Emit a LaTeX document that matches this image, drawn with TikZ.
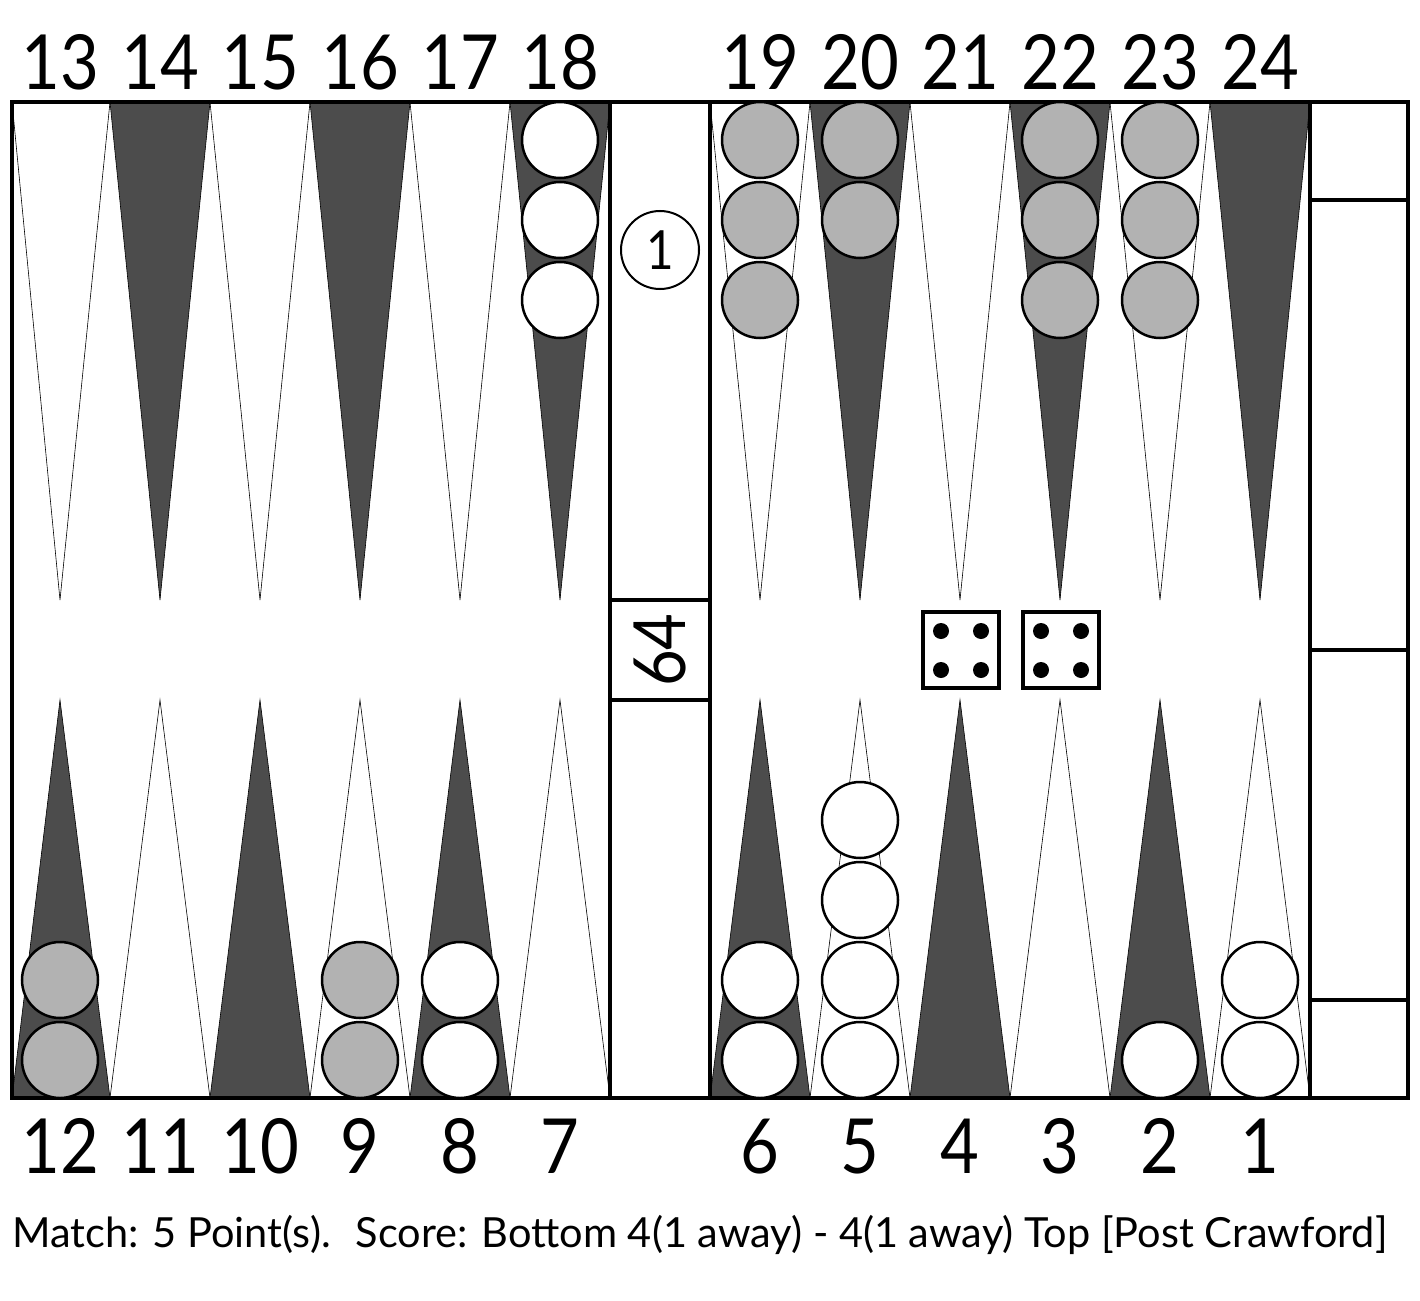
\documentclass[tikz,border=0pt]{standalone}
\usepackage{fontspec}
\setmainfont{Lato}
\newfontfamily\numfont[FakeStretch=0.88]{Lato}
\usetikzlibrary{positioning}

\begin{document}
\begin{tikzpicture}[x=1pt, y=-1pt, node distance=80pt,
  checker/.style={circle, draw, line width=2.5pt, minimum size=76pt, inner sep=0pt},
  whiteman/.style={checker, fill=white},
  grayman/.style={checker, fill=black!30},
  darkpoint/.style={fill=black!70, draw=black, line width=0.6pt},
  lightpoint/.style={fill=white, draw=black, line width=0.6pt},
  pointnum/.style={anchor=base, font=\numfont\fontsize{76}{80}\selectfont},
  die/.style={draw, line width=4pt, minimum size=76pt, inner sep=0pt},
  pip/.style={circle, fill=black, minimum size=16pt, inner sep=0pt}]
  \useasboundingbox (0,0) rectangle (1420,1300);

  % top points 13-24
  \draw[lightpoint] (12,102) -- (60,600) -- (110,102) -- cycle;
  \draw[darkpoint] (110,102) -- (160,600) -- (210,102) -- cycle;
  \draw[lightpoint] (210,102) -- (260,600) -- (310,102) -- cycle;
  \draw[darkpoint] (310,102) -- (360,600) -- (410,102) -- cycle;
  \draw[lightpoint] (410,102) -- (460,600) -- (510,102) -- cycle;
  \draw[darkpoint] (510,102) -- (560,600) -- (610,102) -- cycle;
  \draw[lightpoint] (710,102) -- (760,600) -- (810,102) -- cycle;
  \draw[darkpoint] (810,102) -- (860,600) -- (910,102) -- cycle;
  \draw[lightpoint] (910,102) -- (960,600) -- (1010,102) -- cycle;
  \draw[darkpoint] (1010,102) -- (1060,600) -- (1110,102) -- cycle;
  \draw[lightpoint] (1110,102) -- (1160,600) -- (1210,102) -- cycle;
  \draw[darkpoint] (1210,102) -- (1260,600) -- (1310,102) -- cycle;

  % bottom points 12-1
  \draw[darkpoint] (12,1098) -- (60,700) -- (110,1098) -- cycle;
  \draw[lightpoint] (110,1098) -- (160,700) -- (210,1098) -- cycle;
  \draw[darkpoint] (210,1098) -- (260,700) -- (310,1098) -- cycle;
  \draw[lightpoint] (310,1098) -- (360,700) -- (410,1098) -- cycle;
  \draw[darkpoint] (410,1098) -- (460,700) -- (510,1098) -- cycle;
  \draw[lightpoint] (510,1098) -- (560,700) -- (610,1098) -- cycle;
  \draw[darkpoint] (710,1098) -- (760,700) -- (810,1098) -- cycle;
  \draw[lightpoint] (810,1098) -- (860,700) -- (910,1098) -- cycle;
  \draw[darkpoint] (910,1098) -- (960,700) -- (1010,1098) -- cycle;
  \draw[lightpoint] (1010,1098) -- (1060,700) -- (1110,1098) -- cycle;
  \draw[darkpoint] (1110,1098) -- (1160,700) -- (1210,1098) -- cycle;
  \draw[lightpoint] (1210,1098) -- (1260,700) -- (1310,1098) -- cycle;

  % frame, bar and tray
  \draw[line width=4pt] (12,102) rectangle (1408,1098);
  \draw[line width=4pt] (610,102) -- (610,1098);
  \draw[line width=4pt] (710,102) -- (710,1098);
  \draw[line width=4pt] (1310,102) -- (1310,1098);
  \draw[line width=4pt] (1310,200) -- (1408,200);
  \draw[line width=4pt] (1310,650) -- (1408,650);
  \draw[line width=4pt] (1310,1000) -- (1408,1000);

  \node[draw, line width=4pt, minimum width=100pt, minimum height=100pt,
    inner sep=0pt] (pipbox) at (660,650)
    {\rotatebox{90}{\numfont\fontsize{72}{76}\selectfont 64}};
  \node[circle, draw, line width=2pt, minimum size=78pt, inner sep=0pt,
    font=\numfont\fontsize{54}{58}\selectfont] (cube) at (660,250) {1};

  % dice
  \node[die] (dieA) at (961,650) {};
  \node[die] (dieB) at (1061,650) {};
  \node[pip] (dieAa) at (941,631) {};
  \node[pip] (dieAb) at (981,631) {};
  \node[pip] (dieAc) at (941,670) {};
  \node[pip] (dieAd) at (981,670) {};
  \node[pip] (dieBa) at (1041,631) {};
  \node[pip] (dieBb) at (1081,631) {};
  \node[pip] (dieBc) at (1041,670) {};
  \node[pip] (dieBd) at (1081,670) {};

  % checkers on top
  \node[whiteman] (p18a) at (560,140) {};
    \node[whiteman, below of=p18a] (p18b) {};
    \node[whiteman, below of=p18b] (p18c) {};
  \node[grayman] (p19a) at (760,140) {};
    \node[grayman, below of=p19a] (p19b) {};
    \node[grayman, below of=p19b] (p19c) {};
  \node[grayman] (p20a) at (860,140) {};
    \node[grayman, below of=p20a] (p20b) {};
  \node[grayman] (p22a) at (1060,140) {};
    \node[grayman, below of=p22a] (p22b) {};
    \node[grayman, below of=p22b] (p22c) {};
  \node[grayman] (p23a) at (1160,140) {};
    \node[grayman, below of=p23a] (p23b) {};
    \node[grayman, below of=p23b] (p23c) {};

  % checkers on bottom
  \node[grayman] (p12a) at (60,1060) {};
    \node[grayman, above of=p12a] (p12b) {};
  \node[grayman] (p9a) at (360,1060) {};
    \node[grayman, above of=p9a] (p9b) {};
  \node[whiteman] (p8a) at (460,1060) {};
    \node[whiteman, above of=p8a] (p8b) {};
  \node[whiteman] (p6a) at (760,1060) {};
    \node[whiteman, above of=p6a] (p6b) {};
  \node[whiteman] (p5a) at (860,1060) {};
    \node[whiteman, above of=p5a] (p5b) {};
    \node[whiteman, above of=p5b] (p5c) {};
    \node[whiteman, above of=p5c] (p5d) {};
  \node[whiteman] (p2a) at (1160,1060) {};
  \node[whiteman] (p1a) at (1260,1060) {};
    \node[whiteman, above of=p1a] (p1b) {};

  % point numbers
  \node[pointnum] (n13) at (60,90) {13};
  \node[pointnum] (n14) at (160,90) {14};
  \node[pointnum] (n15) at (260,90) {15};
  \node[pointnum] (n16) at (360,90) {16};
  \node[pointnum] (n17) at (460,90) {17};
  \node[pointnum] (n18) at (560,90) {18};
  \node[pointnum] (n19) at (760,90) {19};
  \node[pointnum] (n20) at (860,90) {20};
  \node[pointnum] (n21) at (960,90) {21};
  \node[pointnum] (n22) at (1060,90) {22};
  \node[pointnum] (n23) at (1160,90) {23};
  \node[pointnum] (n24) at (1260,90) {24};

  \node[pointnum] (n12) at (60,1173) {12};
  \node[pointnum] (n11) at (160,1173) {11};
  \node[pointnum] (n10) at (260,1173) {10};
  \node[pointnum] (n9) at (360,1173) {9};
  \node[pointnum] (n8) at (460,1173) {8};
  \node[pointnum] (n7) at (560,1173) {7};
  \node[pointnum] (n6) at (760,1173) {6};
  \node[pointnum] (n5) at (860,1173) {5};
  \node[pointnum] (n4) at (960,1173) {4};
  \node[pointnum] (n3) at (1060,1173) {3};
  \node[pointnum] (n2) at (1160,1173) {2};
  \node[pointnum] (n1) at (1260,1173) {1};

  \node[anchor=base west, inner sep=0pt, font=\fontsize{41.5}{45}\selectfont]
    (caption) at (12,1247)
    {Match: 5 Point(s).~ Score: Bottom 4(1 away) - 4(1 away) Top [Post Crawford]};
\end{tikzpicture}
\end{document}
